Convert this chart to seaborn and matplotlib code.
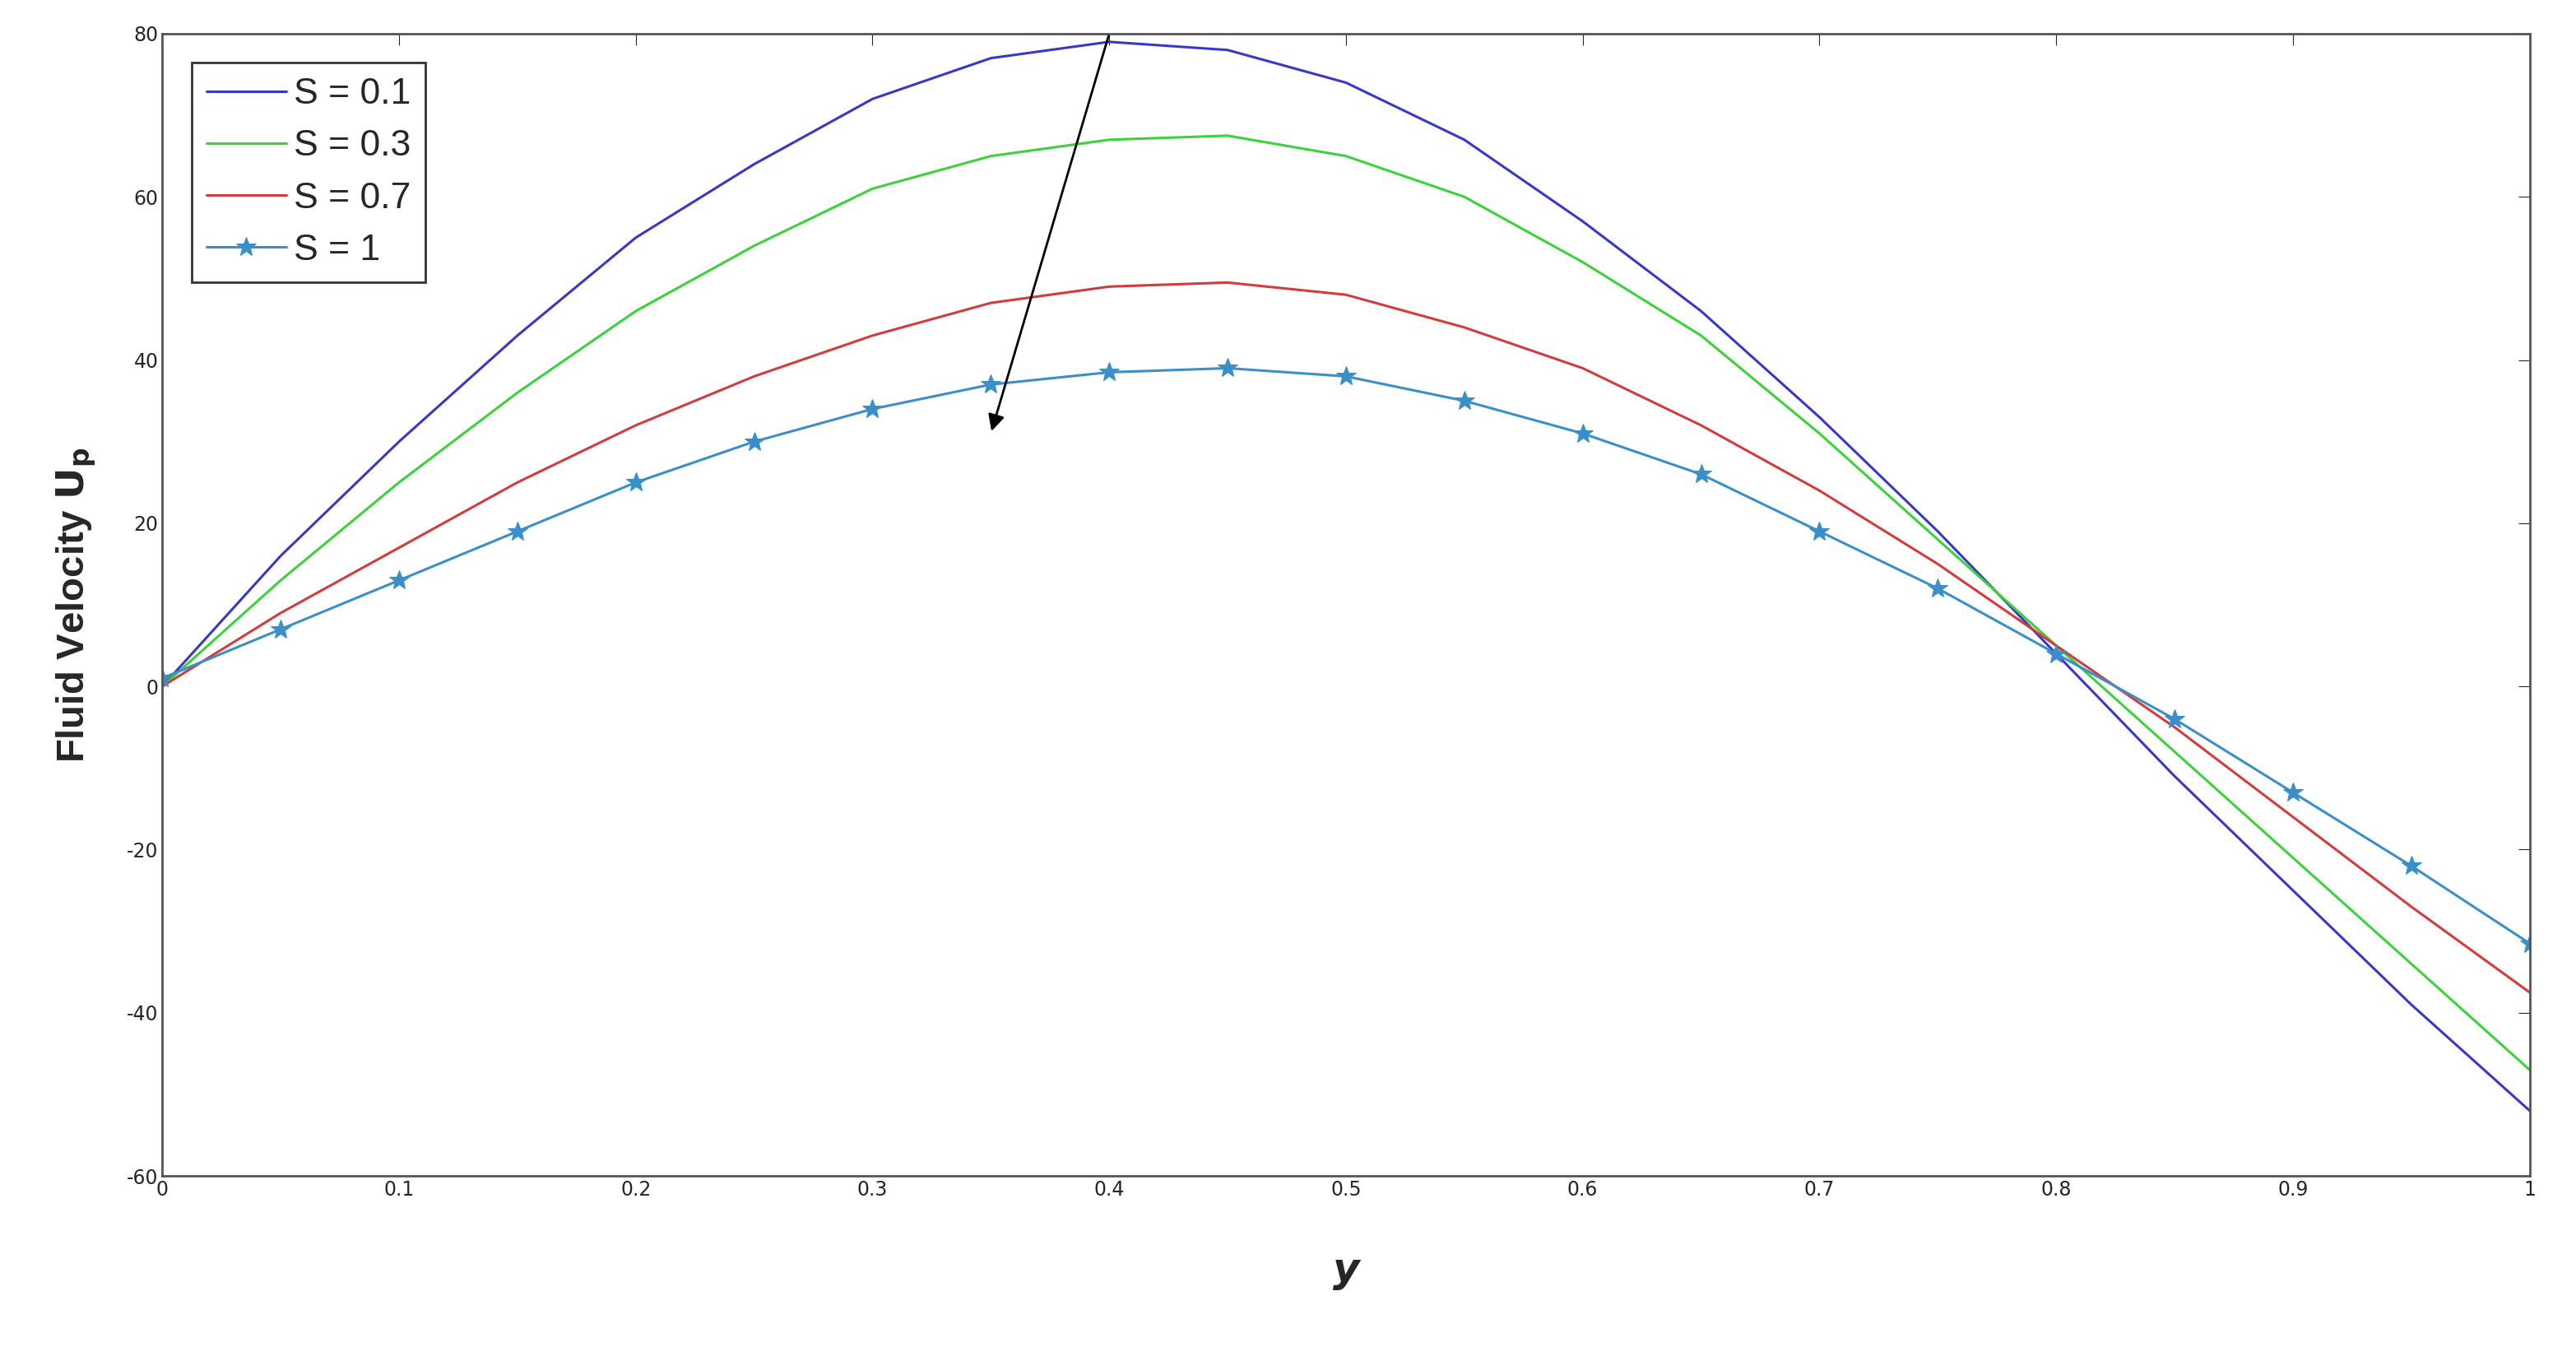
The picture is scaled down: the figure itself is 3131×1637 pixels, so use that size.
import numpy as np
import pandas as pd
import seaborn as sns
import matplotlib.pyplot as plt

y_vals = np.round(np.arange(0, 1.0001, 0.05), 2)
s01 = [0, 16, 30, 43, 55, 64, 72, 77, 79, 78, 74, 67, 57, 46, 33, 19, 4, -11, -25, -39, -52]
s03 = [0, 13, 25, 36, 46, 54, 61, 65, 67, 67.5, 65, 60, 52, 43, 31, 18, 5, -8, -21, -34, -47]
s07 = [0, 9, 17, 25, 32, 38, 43, 47, 49, 49.5, 48, 44, 39, 32, 24, 15, 5, -5, -16, -27, -37.5]
s1 = [1, 7, 13, 19, 25, 30, 34, 37, 38.5, 39, 38, 35, 31, 26, 19, 12, 4, -4, -13, -22, -31.5]

sns.set_style("white")
plt.rcParams["axes.unicode_minus"] = False
fig, ax = plt.subplots(figsize=(31.31, 16.37), dpi=100)
fig.subplots_adjust(left=0.063, right=0.982, top=0.975, bottom=0.127)

series = [("S = 0.1", s01, "#3838c8", None),
          ("S = 0.3", s03, "#3cd23c", None),
          ("S = 0.7", s07, "#d23c3c", None),
          ("S = 1", s1, "#3a8fc8", "*")]
for name, vals, col, mk in series:
    df = pd.DataFrame({"y": y_vals, "u": vals})
    sns.lineplot(data=df, x="y", y="u", ax=ax, color=col, label=name, lw=2.2,
                 marker=mk, markersize=18 if mk else None, markeredgecolor=col)

ax.annotate("", xy=(0.35, 31), xytext=(0.4, 80),
            arrowprops=dict(arrowstyle="-|>", color="black", lw=2, mutation_scale=30))
ax.set_xlim(0, 1)
ax.set_ylim(-60, 80)
ax.set_xticks(np.arange(0, 1.01, 0.1))
ax.set_xticklabels(["0", "0.1", "0.2", "0.3", "0.4", "0.5", "0.6", "0.7", "0.8", "0.9", "1"])
ax.set_yticks(np.arange(-60, 81, 20))
ax.tick_params(labelsize=17, direction="in", length=10, right=True, top=True)
ax.set_xlabel("y", fontsize=36, fontstyle="italic", fontweight="bold", labelpad=45)
ax.set_ylabel(r"Fluid Velocity $\mathbf{U}_{\mathbf{p}}$", fontsize=34, fontweight="bold",
              family="Liberation Sans", labelpad=25)
for sp in ax.spines.values():
    sp.set_color("#555555")
    sp.set_linewidth(2)
leg = ax.legend(loc="upper left", fontsize=32, frameon=True, fancybox=False,
                edgecolor="black", handlelength=2.2, handletextpad=0.2,
                borderaxespad=0.8, prop={"family": "Liberation Sans", "size": 32})
leg.get_frame().set_linewidth(2)
fig.savefig("out.png", dpi=100)
